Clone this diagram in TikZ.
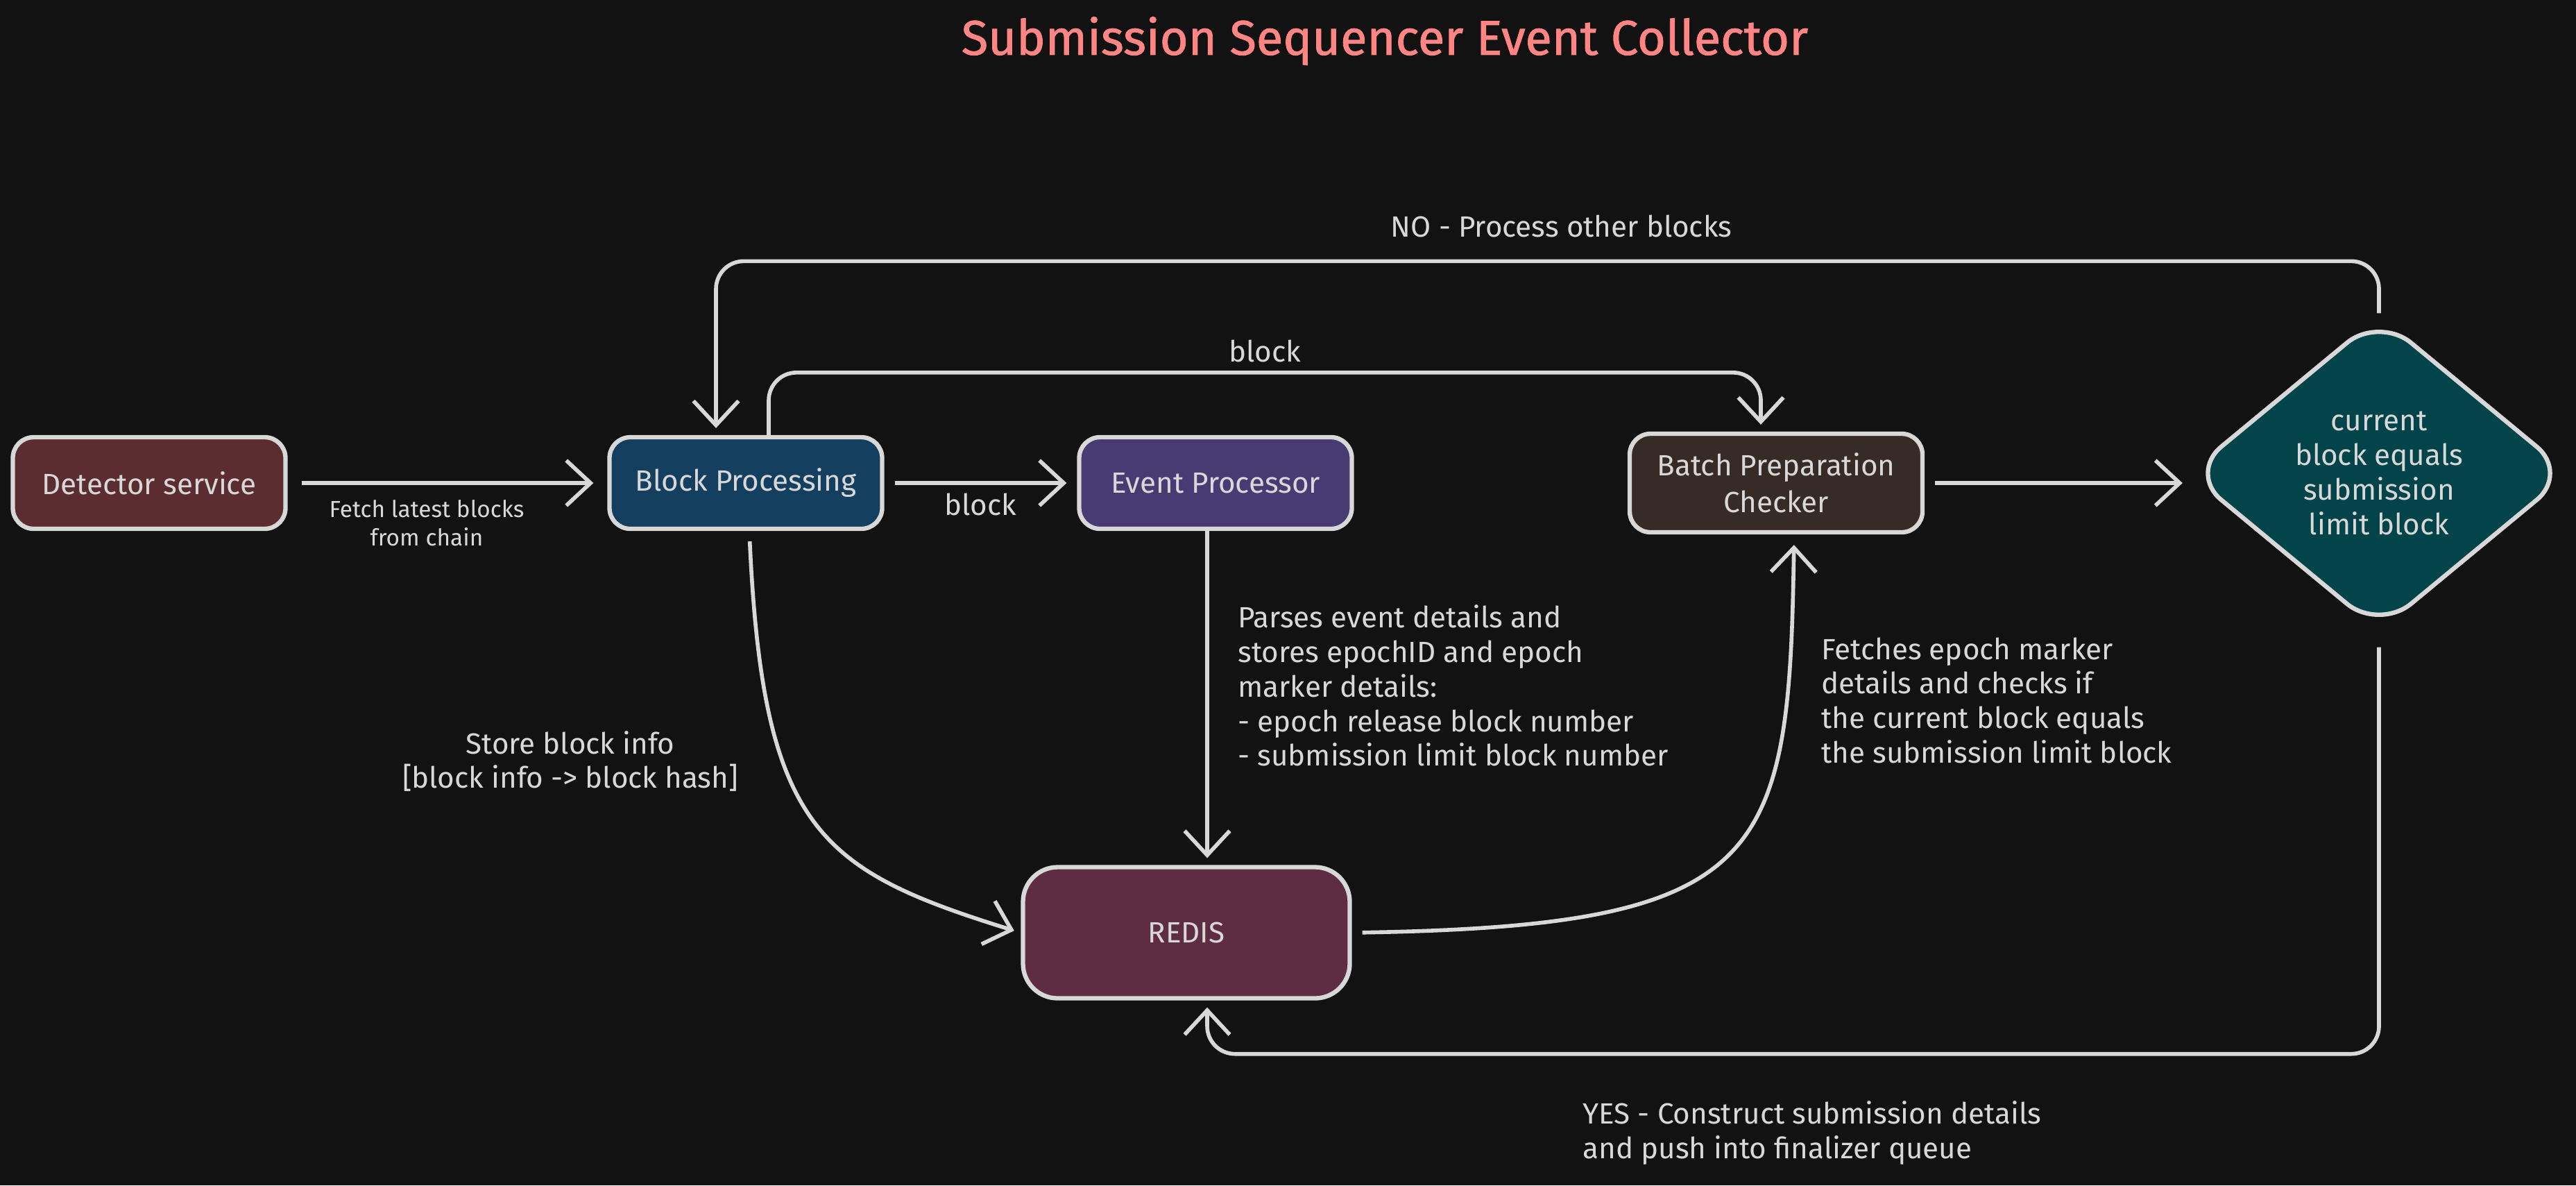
\documentclass[tikz,border=0pt]{standalone}
\usepackage{fontspec}
\setmainfont{Fira Sans}
\usepackage{tikz}
\definecolor{bgdark}{HTML}{121212}
\definecolor{chalk}{HTML}{D8D8D8}
\definecolor{salmon}{HTML}{FF8585}
\definecolor{detred}{HTML}{5C2D30}
\definecolor{procblue}{HTML}{153F5F}
\definecolor{evpurple}{HTML}{483A72}
\definecolor{batchbrown}{HTML}{372B27}
\definecolor{decteal}{HTML}{02444A}
\definecolor{redisplum}{HTML}{5E2D43}
\usetikzlibrary{shapes.geometric, arrows.meta}
\tikzstyle{arrow} = [line width=1.6pt, draw=chalk, -{Straight Barb[length=3.5mm,width=6.5mm]}]

\begin{document}
\begin{tikzpicture}[node distance=2cm, auto, thick]
        \tikzstyle{block} = [rectangle, draw=chalk, line width=1.8pt, text=chalk, align=center,
        rounded corners=3mm, minimum width=3.93cm, minimum height=1.32cm, font=\fontsize{12}{15}\selectfont]
        \tikzstyle{decision} = [diamond, draw=chalk, line width=1.8pt, text=chalk, align=center,
        fill=decteal, rounded corners=6mm, minimum width=5.5cm, minimum height=4.55cm, inner sep=0pt,
        font=\fontsize{12}{14.2}\selectfont]
        \tikzstyle{notes} = [text=chalk, align=left, inner sep=0pt, font=\fontsize{12}{14.2}\selectfont]
        \tikzstyle{remark} = [text=chalk, align=center, font=\fontsize{12}{14}\selectfont]

        \fill[bgdark] (0,0) rectangle (37.13,-17.08);
        \useasboundingbox (0,0) rectangle (37.13,-17.08);

        \node [text=salmon, font=\fontsize{20}{24}\selectfont\addfontfeatures{FakeBold=1.2}] (title) at (19.96,-0.59)
            {Submission Sequencer Event Collector};

        \node [block, fill=detred] (node0) at (2.15,-6.96) {Detector service};
        \node [block, fill=procblue, right of=node0, xshift=6.6cm] (node1) {Block Processing};
        \node [block, fill=evpurple, right of=node1, xshift=4.77cm] (node2) {Event Processor};
        \node [block, fill=batchbrown, minimum width=4.22cm, minimum height=1.42cm,
            right of=node2, xshift=6.08cm] (node3) {Batch Preparation\\Checker};
        \node [decision, right of=node3, xshift=6.69cm, yshift=0.14cm] (node4)
            {current\\block equals\\submission\\limit block};
        \node [block, fill=redisplum, minimum width=4.71cm, minimum height=1.89cm, rounded corners=5mm,
            below of=node2, xshift=-0.42cm, yshift=-4.48cm] (node5) {REDIS};

        % notes
        \node [notes, anchor=north west] (note0) at (17.83,-8.70)
            {Parses event details and\\stores epochID and epoch\\marker details:\\- epoch release block number\\- submission limit block number};
        \node [notes, anchor=north west] (note1) at (26.24,-9.17)
            {Fetches epoch marker\\details and checks if\\the current block equals\\the submission limit block};
        \node [remark] (note2) at (8.22,-10.97) {Store block info\\{[block info -> block hash]}};
        \node [notes, anchor=north west] (note3) at (22.80,-15.85)
            {YES - Construct submission details\\and push into finalizer queue};

        \draw [arrow, shorten <=2mm, shorten >=2mm] (node0) --
            node [remark, below=1mm, xshift=-3mm, font=\fontsize{9.5}{11.5}\selectfont] {Fetch latest blocks\\from chain} (node1);
        \draw [arrow, shorten <=1.5mm, shorten >=1.5mm] (node1) -- node [remark, below] {block} (node2);
        \draw [arrow, rounded corners=4mm, shorten >=1mm] ([xshift=3.3mm]node1.north) -- ++(0,0.9)
            -| node [remark, pos=0.25, above] {block} ([xshift=-2.2mm]node3.north);
        \draw [arrow, rounded corners=4mm, shorten >=1mm] (node4.north) -- ++(0,0.75)
            -| node [remark, pos=0.25, above=2mm, xshift=2mm] {NO - Process other blocks} ([xshift=-4.3mm]node1.north);
        \draw [arrow, shorten <=1.5mm, shorten >=0.5mm] (node3.east) -- (node4.west |- node3.east);
        \draw [arrow, shorten >=1mm] ([xshift=-1.2mm]node2.south) -- ([xshift=-1.2mm]node2.south |- node5.north);
        \draw [arrow, shorten <=1.5mm, shorten >=1mm] ([xshift=0.5mm]node1.south)
            .. controls +(0.2,-4.3) and +(-2.9,0.9) .. (node5.west);
        \draw [arrow, shorten <=1.5mm, shorten >=1.5mm] (node5.east)
            .. controls +(6.0,0.1) and +(-0.07,-4.7) .. ([xshift=2.6mm]node3.south);
        \draw [arrow, rounded corners=4mm, shorten <=2mm, shorten >=1mm] (node4.south) -- ++(0,-6.06)
            -| ([xshift=3mm]node5.south);
    \end{tikzpicture}
\end{document}
